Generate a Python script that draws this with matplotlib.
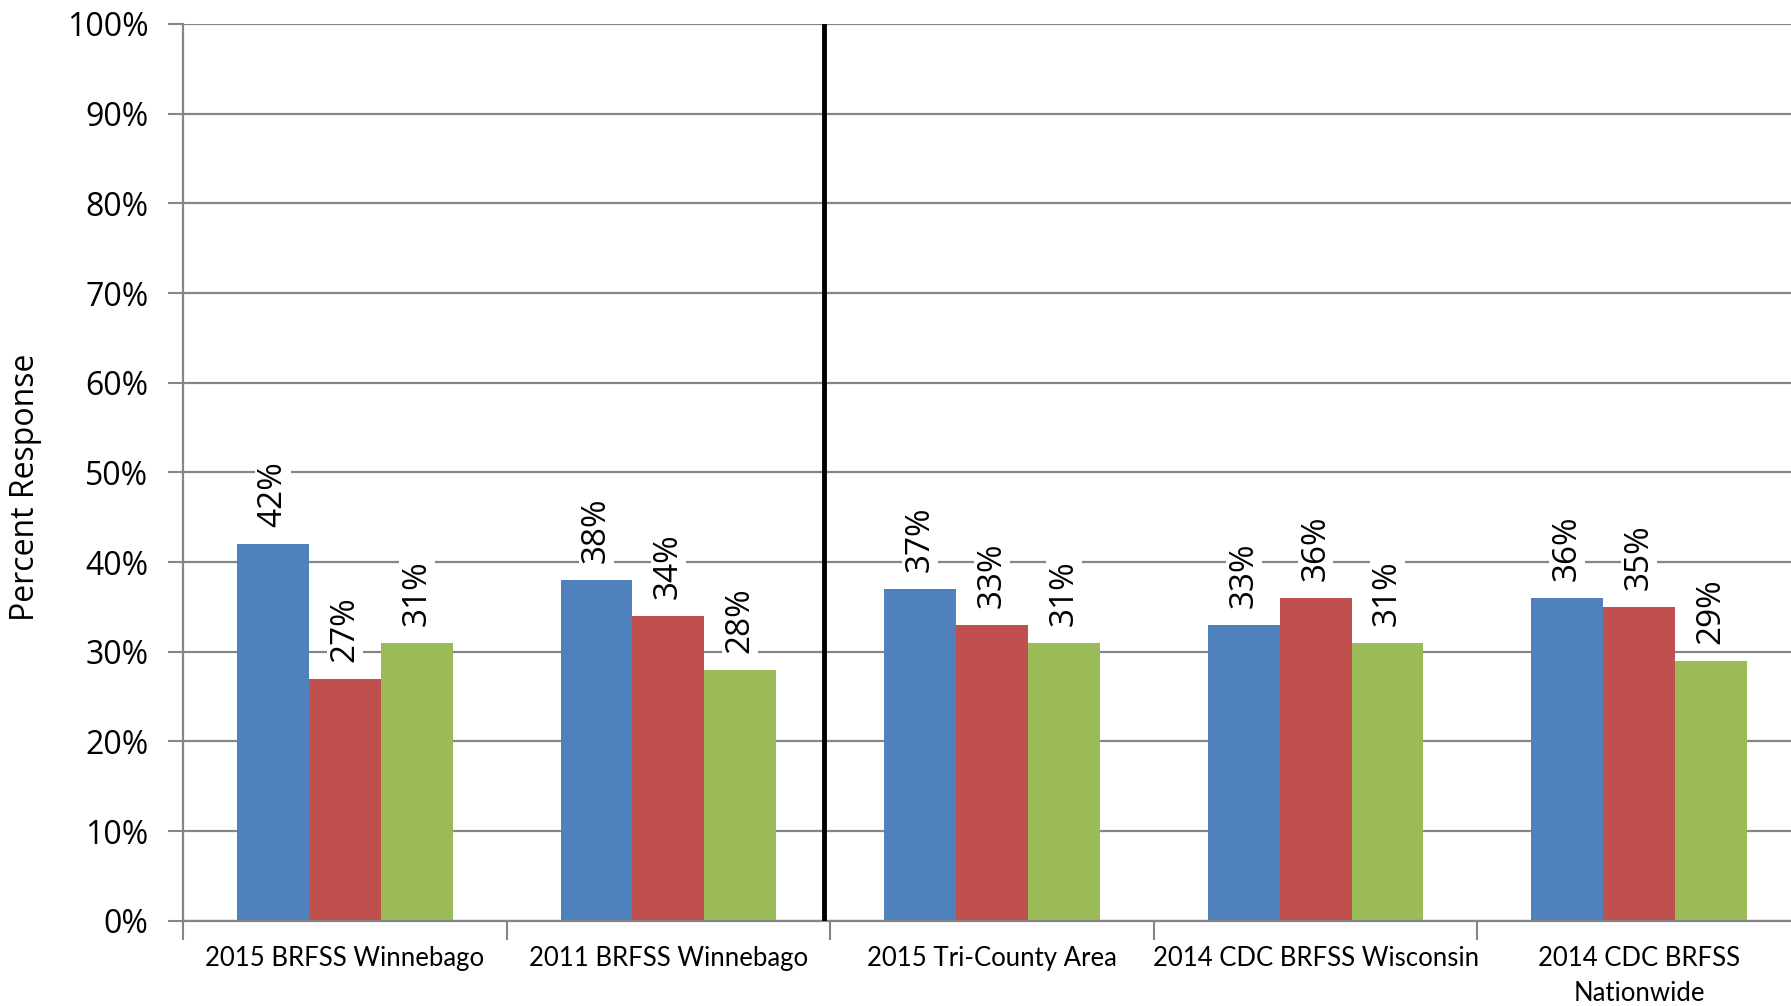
import matplotlib
matplotlib.use("Agg")
import matplotlib.pyplot as plt
import numpy as np

categories = ["2015 BRFSS Winnebago", "2011 BRFSS Winnebago", "2015 Tri-County Area",
              "2014 CDC BRFSS Wisconsin", "2014 CDC BRFSS\nNationwide"]
series_blue = [42, 38, 37, 33, 36]
series_red = [27, 34, 33, 36, 35]
series_green = [31, 28, 31, 31, 29]
yticks = [0, 10, 20, 30, 40, 50, 60, 70, 80, 90, 100]
ytick_labels = [f"{v}%" for v in yticks]

colors = ["#4F81BD", "#C0504D", "#9BBB59"]
grid_color = "#868686"

fig = plt.figure(figsize=(17.91, 10.06), dpi=100)
ax = fig.add_axes([183 / 1791, (1006 - 920.7) / 1006, 1618 / 1791, (920.7 - 24) / 1006])

x = np.arange(len(categories))
w = 1 / 4.5
for i, (vals, c) in enumerate(zip([series_blue, series_red, series_green], colors)):
    pos = x + (i - 1) * w
    ax.bar(pos, vals, width=w, color=c, zorder=2)
    for p, v in zip(pos, vals):
        ax.annotate(f"{v}%", (p, v), xytext=(0, 12), textcoords="offset points",
                    rotation=90, ha="center", va="bottom", fontsize=24,
                    family="Open Sans", color="black", zorder=4,
                    bbox=dict(facecolor="white", edgecolor="none", pad=1))

ax.set_ylim(0, 100)
ax.set_xlim(-0.5, 4.5)
ax.set_yticks(yticks)
ax.set_yticklabels(ytick_labels, fontsize=23, family="Open Sans")
ax.yaxis.grid(True, color=grid_color, linewidth=1.6, zorder=0)
ax.set_axisbelow(True)

# category boundaries as ticks
ax.set_xticks(np.arange(-0.5, 5.0, 1.0), minor=False)
ax.set_xticklabels([])
ax.tick_params(axis="x", which="major", length=14, width=1.5, color=grid_color)
ax.set_xticks(x, minor=True)
ax.set_xticklabels(categories, minor=True, fontsize=18.5, family="Lato", linespacing=1.5)
ax.tick_params(axis="x", which="minor", length=0, pad=18)
ax.tick_params(axis="y", length=11, width=1.5, color=grid_color, pad=14)

for side in ["top", "right"]:
    ax.spines[side].set_visible(False)
for side in ["left", "bottom"]:
    ax.spines[side].set_color(grid_color)
    ax.spines[side].set_linewidth(1.6)

ax.axvline(1.5 - 6 / 323.6, color="black", linewidth=3.5, zorder=3)

ax.set_ylabel("Percent Response", fontsize=23, family="Open Sans")
ax.yaxis.set_label_coords(-0.087, 0.483)

fig.savefig("out.png", dpi=100)
